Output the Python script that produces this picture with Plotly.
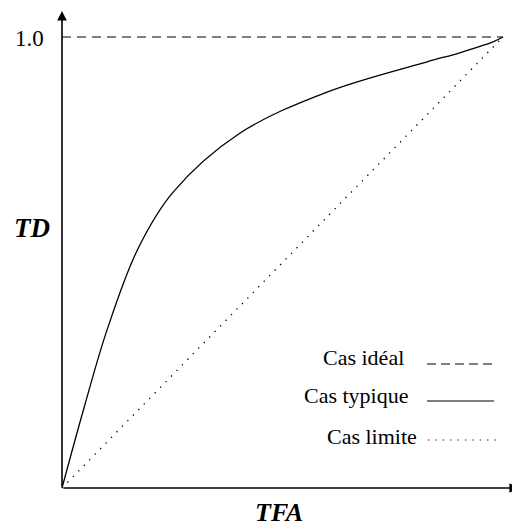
import plotly.graph_objects as go

# ROC-type curves
tfa_typique = [0.0, 0.050, 0.102, 0.172, 0.252, 0.404, 0.601, 0.828, 0.902, 0.977, 1.0]
td_typique = [0.0, 0.178, 0.350, 0.530, 0.656, 0.787, 0.878, 0.945, 0.965, 0.989, 1.0]
tfa_limite = [0.0, 1.0]
td_limite = [0.0, 1.0]
tfa_ideal = [0.0, 1.0]
td_ideal = [1.0, 1.0]
legend_labels = ["Cas idéal", "Cas typique", "Cas limite"]
y_tick_label = "1.0"
x_title = "TFA"
y_title = "TD"

FONT = "Liberation Serif, Times New Roman, serif"

# page-pixel helpers (page is offset by the 8px body margin)
def px_x(p):
    return (p - 62) / 441.0

def px_y(p):
    return (488 - p) / 451.0

def paper_x(p):
    return (p - 50) / 470.0

def paper_y(p):
    return (500 - p) / 492.0

fig = go.Figure()
fig.add_trace(go.Scatter(x=tfa_ideal, y=td_ideal, mode="lines",
                         line=dict(color="black", width=1, dash="9px,6px"),
                         hoverinfo="skip", cliponaxis=False))
fig.add_trace(go.Scatter(x=tfa_limite, y=td_limite, mode="lines",
                         line=dict(color="black", width=1.3, dash="1.3px,6.5px"),
                         hoverinfo="skip", cliponaxis=False))
fig.add_trace(go.Scatter(x=tfa_typique, y=td_typique, mode="lines",
                         line=dict(color="black", width=1.3, shape="spline", smoothing=1.0),
                         hoverinfo="skip", cliponaxis=False))

# axes with arrows
fig.add_annotation(x=px_x(519), y=0, ax=0, ay=0, xref="x", yref="y", axref="x", ayref="y",
                   showarrow=True, arrowhead=2, arrowsize=1.2, arrowwidth=1.6, arrowcolor="black", text="")
fig.add_annotation(x=0, y=px_y(11), ax=0, ay=0, xref="x", yref="y", axref="x", ayref="y",
                   showarrow=True, arrowhead=2, arrowsize=1.2, arrowwidth=1.6, arrowcolor="black", text="")

# labels
fig.add_annotation(x=paper_x(29), y=paper_y(38), xref="paper", yref="paper", text=y_tick_label,
                   xanchor="center", yanchor="middle",
                   showarrow=False, font=dict(family=FONT, size=23, color="black"))
fig.add_annotation(x=paper_x(32), y=paper_y(228), xref="paper", yref="paper",
                   xanchor="center", yanchor="middle",
                   text="<b><i>" + y_title + "</i></b>", showarrow=False,
                   font=dict(family=FONT, size=27, color="black"))
fig.add_annotation(x=paper_x(279), y=paper_y(512), xref="paper", yref="paper",
                   xanchor="center", yanchor="middle",
                   text="<b><i>" + x_title + "</i></b>", showarrow=False,
                   font=dict(family=FONT, size=26, color="black"))

# legend
leg_y = [357, 395, 436]
leg_right = [406, 411, 419]
for lab, yy, xr in zip(legend_labels, leg_y, leg_right):
    fig.add_annotation(x=px_x(xr), y=px_y(yy), text=lab, showarrow=False,
                       xanchor="right", yanchor="middle",
                       font=dict(family=FONT, size=22, color="black"))
fig.add_shape(type="line", x0=px_x(427), x1=px_x(496), y0=px_y(364), y1=px_y(364),
              line=dict(color="black", width=1, dash="9px,5px"))
fig.add_shape(type="line", x0=px_x(427), x1=px_x(494), y0=px_y(401), y1=px_y(401),
              line=dict(color="black", width=1))
fig.add_shape(type="line", x0=px_x(428), x1=px_x(502), y0=px_y(440), y1=px_y(440),
              line=dict(color="black", width=1.2, dash="1.2px,6.2px"))

fig.update_layout(
    width=512, height=521,
    margin=dict(l=42, r=0, t=0, b=29, pad=0),
    paper_bgcolor="white", plot_bgcolor="white",
    showlegend=False,
    xaxis=dict(range=[px_x(50), px_x(520)], visible=False, fixedrange=True),
    yaxis=dict(range=[px_y(500), px_y(8)], visible=False, fixedrange=True),
)
fig.write_html("out.html")
